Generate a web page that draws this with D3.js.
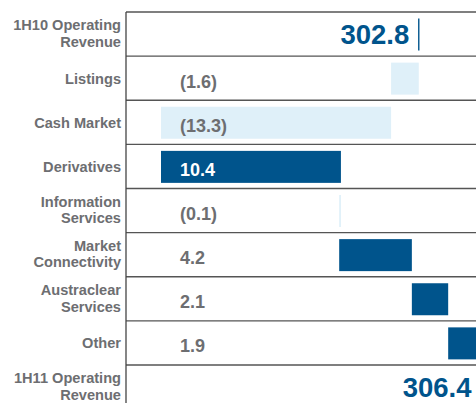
<!DOCTYPE html>
<html>
<head>
<meta charset="utf-8">
<script src="https://cdn.jsdelivr.net/npm/d3@7"></script>
<style>
  html, body { margin: 0; padding: 0; background: #fff; overflow: hidden; }
  svg { display: block; }
</style>
</head>
<body>
<svg id="chart" width="476" height="403"></svg>
<script>
// ---- data ----
const categories = ["1H10 Operating Revenue", "Listings", "Cash Market", "Derivatives",
  "Information Services", "Market Connectivity", "Austraclear Services", "Other", "1H11 Operating Revenue"];
const categoryLines = [["1H10 Operating", "Revenue"], ["Listings"], ["Cash Market"], ["Derivatives"],
  ["Information", "Services"], ["Market", "Connectivity"], ["Austraclear", "Services"], ["Other"], ["1H11 Operating", "Revenue"]];
const startTotal = 302.8;
const deltas = [-1.6, -13.3, 10.4, -0.1, 4.2, 2.1, 1.9];
const deltaLabels = ["(1.6)", "(13.3)", "10.4", "(0.1)", "4.2", "2.1", "1.9"];
const endTotal = 306.4;
const totalLabels = ["302.8", "306.4"];

// ---- layout ----
const W = 476, H = 403;
const plotLeft = 126, plotTop = 12, rowH = 44.125;
const svg = d3.select("#chart");

const y = d3.scaleBand().domain(categories).range([plotTop, plotTop + categories.length * rowH]).padding(0);
const x = d3.scaleLinear().domain([285.877, 306.108]).range([plotLeft, W]);

const darkBlue = "#00548c";
const lightBlue = "#dff0f9";
const grey = "#6d6e71";
const font = "'Liberation Sans', Arial, sans-serif";
const barH = 32, barOff = 6.5;

// waterfall steps
let run = startTotal;
const steps = deltas.map((d, i) => {
  const s = run; run = +(run + d).toFixed(2);
  return { cat: categories[i + 1], start: s, end: run, value: d, label: deltaLabels[i] };
});

// row separator lines
svg.append("g").selectAll("line").data(categories).join("line")
  .attr("x1", plotLeft).attr("x2", W)
  .attr("y1", d => y(d)).attr("y2", d => y(d))
  .attr("stroke", "#555").attr("stroke-width", 1.3);

// left axis line
svg.append("line").attr("x1", plotLeft).attr("x2", plotLeft).attr("y1", plotTop).attr("y2", H)
  .attr("stroke", "#444").attr("stroke-width", 1.3);

// delta bars
svg.append("g").selectAll("rect").data(steps).join("rect")
  .attr("x", d => x(Math.min(d.start, d.end)))
  .attr("width", d => Math.max(1.3, Math.abs(x(d.end) - x(d.start))))
  .attr("y", d => y(d.cat) + barOff)
  .attr("height", barH)
  .attr("fill", d => d.value < 0 ? lightBlue : darkBlue);

// totals
const totals = [
  { cat: categories[0], value: startTotal, label: totalLabels[0] },
  { cat: categories[categories.length - 1], value: endTotal, label: totalLabels[1] }
];
svg.append("g").selectAll("line").data(totals).join("line")
  .attr("x1", d => x(d.value)).attr("x2", d => x(d.value))
  .attr("y1", d => y(d.cat) + barOff).attr("y2", d => y(d.cat) + barOff + barH)
  .attr("stroke", darkBlue).attr("stroke-width", 1.4);
svg.append("g").selectAll("text").data(totals).join("text")
  .attr("x", d => x(d.value) - 9.5)
  .attr("y", d => y(d.cat) + rowH / 2 + 10.2)
  .attr("text-anchor", "end")
  .attr("font-family", font).attr("font-weight", "bold").attr("font-size", 27.5)
  .attr("fill", darkBlue)
  .text(d => d.label);

// delta value labels
const labelX = 180;
svg.append("g").selectAll("text").data(steps).join("text")
  .attr("x", labelX)
  .attr("y", d => y(d.cat) + rowH / 2 + 9.5)
  .attr("font-family", font).attr("font-weight", "bold").attr("font-size", 18)
  .attr("fill", d => (d.value > 0 && x(d.start) <= labelX) ? "#fff" : grey)
  .text(d => d.label);

// category labels
const cat = svg.append("g").selectAll("text").data(categories).join("text")
  .attr("text-anchor", "end")
  .attr("font-family", font).attr("font-weight", "bold").attr("font-size", 14.6)
  .attr("fill", grey);
cat.each(function(d, i) {
  const lines = categoryLines[i];
  const base = y(d) + rowH / 2 + 5.5 - (lines.length - 1) * 9.5;
  d3.select(this).selectAll("tspan").data(lines).join("tspan")
    .attr("x", 121).attr("y", (l, j) => base + j * 16.8).text(l => l);
});
</script>
</body>
</html>
